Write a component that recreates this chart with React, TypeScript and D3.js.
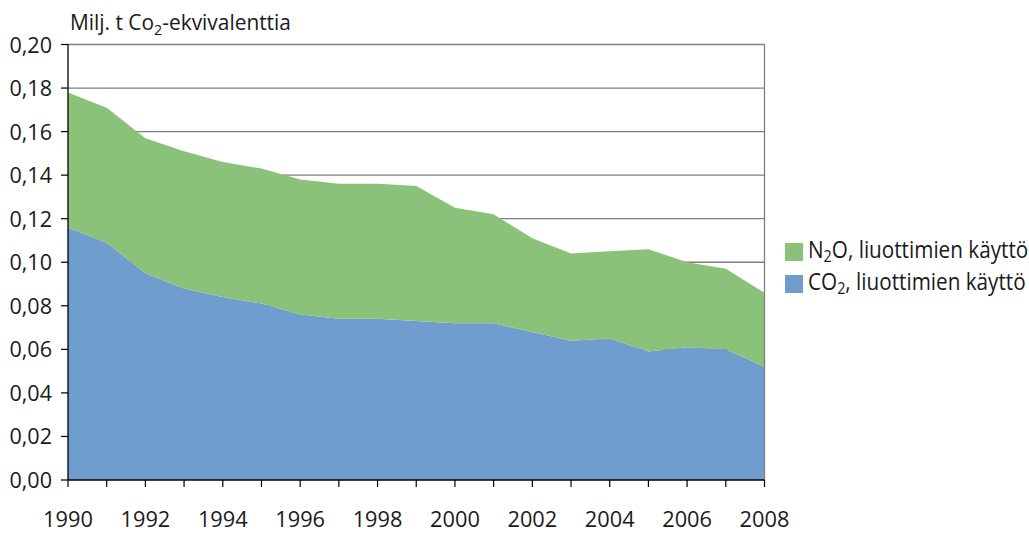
import React from "react";
import * as d3 from "d3";

const years = [1990,1991,1992,1993,1994,1995,1996,1997,1998,1999,2000,2001,2002,2003,2004,2005,2006,2007,2008];
const co2 = [0.116,0.109,0.095,0.088,0.084,0.081,0.076,0.074,0.074,0.073,0.072,0.072,0.068,0.064,0.065,0.059,0.061,0.060,0.052];
const total = [0.178,0.171,0.157,0.151,0.146,0.143,0.138,0.136,0.136,0.135,0.125,0.122,0.111,0.104,0.105,0.106,0.100,0.097,0.086];
const n2o = total.map((t, i) => t - co2[i]);
const yTicks = [0,0.02,0.04,0.06,0.08,0.10,0.12,0.14,0.16,0.18,0.20];
const xLabelYears = [1990,1992,1994,1996,1998,2000,2002,2004,2006,2008];

const FONT = "'Open Sans', sans-serif";
const GREEN = "#8BC27A";
const BLUE = "#6F9DCE";

function T({ x, y, anchor = "start", size = 22, sx = 0.97, children }: any) {
  return (
    <text transform={`translate(${x},${y}) scale(${sx},1)`} textAnchor={anchor} fontSize={size} fill="#1a1a1a">
      {children}
    </text>
  );
}

export default function App() {
  const W = 1029, H = 534;
  const x = d3.scaleLinear().domain([1990, 2008]).range([68, 764.5]);
  const y = d3.scaleLinear().domain([0, 0.2]).range([480, 44.5]);

  const data = years.map((yr, i) => ({ yr, co2: co2[i], n2o: n2o[i] }));
  const stack = d3.stack<any>().keys(["co2", "n2o"])(data);
  const area = d3.area<any>()
    .x((d: any) => x(d.data.yr))
    .y0((d: any) => y(d[0]))
    .y1((d: any) => y(d[1]));
  const colors = [BLUE, GREEN];
  const fmt = (v: number) => v.toFixed(2).replace(".", ",");

  return (
    <svg width={W} height={H} style={{ position: "absolute", left: 0, top: 0, background: "#fff" }} fontFamily={FONT}>
      {yTicks.slice(1).map((t) => (
        <line key={"g" + t} x1={68} x2={764.5} y1={y(t)} y2={y(t)} stroke="#7f7f7f" strokeWidth={1.3} />
      ))}
      {stack.map((s, i) => (
        <path key={i} d={area(s as any) || ""} fill={colors[i]} />
      ))}
      <line x1={764.5} x2={764.5} y1={y(0.2)} y2={480} stroke="#7f7f7f" strokeWidth={1.3} />
      <line x1={68} x2={68} y1={y(0.2)} y2={480} stroke="#000" strokeWidth={1.3} />
      <line x1={68} x2={764.5} y1={480} y2={480} stroke="#000" strokeWidth={1.3} />
      {yTicks.map((t) => (
        <g key={"y" + t}>
          <line x1={61} x2={68} y1={y(t)} y2={y(t)} stroke="#000" strokeWidth={1.2} />
          <T x={52} y={y(t) + 8} anchor="end" sx={0.98}>{fmt(t)}</T>
        </g>
      ))}
      {years.map((yr) => (
        <line key={"xt" + yr} x1={x(yr)} x2={x(yr)} y1={480} y2={487} stroke="#000" strokeWidth={1.2} />
      ))}
      {xLabelYears.map((yr) => (
        <T key={"xl" + yr} x={x(yr)} y={527} anchor="middle" sx={0.99}>{yr}</T>
      ))}
      <T x={70} y={30} sx={0.95}>
        Milj. t Co<tspan fontSize={15} dy={5}>2</tspan><tspan dy={-5}>-ekvivalenttia</tspan>
      </T>
      <rect x={785} y={243} width={18} height={18} fill={GREEN} />
      <T x={808} y={258} size={23} sx={0.9}>
        N<tspan fontSize={16} dy={4}>2</tspan><tspan dy={-4}>O, liuottimien käyttö</tspan>
      </T>
      <rect x={785} y={275} width={18} height={18} fill={BLUE} />
      <T x={808} y={290} size={23} sx={0.9}>
        CO<tspan fontSize={16} dy={4}>2</tspan><tspan dy={-4}>, liuottimien käyttö</tspan>
      </T>
    </svg>
  );
}
